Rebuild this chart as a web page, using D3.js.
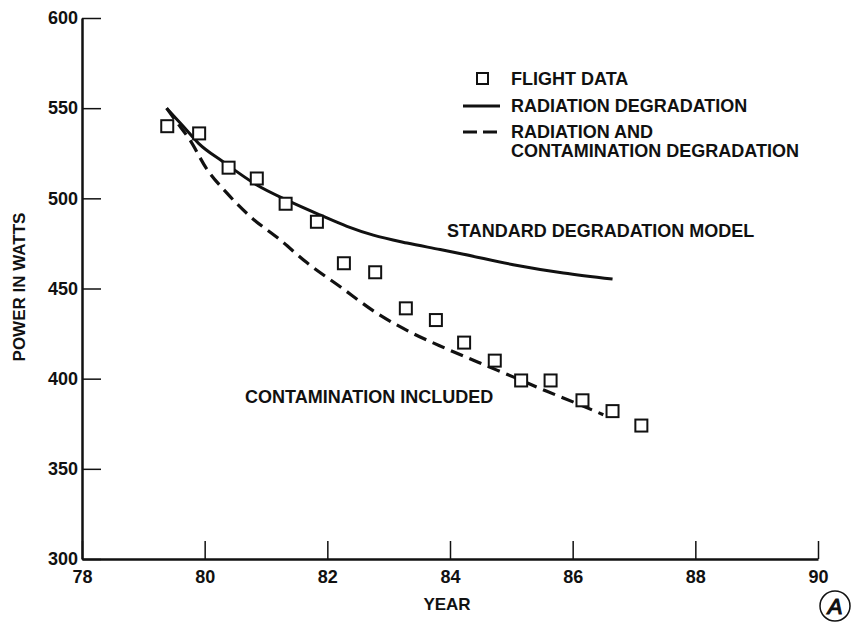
<!DOCTYPE html>
<html>
<head>
<meta charset="utf-8">
<script src="https://cdn.jsdelivr.net/npm/d3@7"></script>
<style>
  body { margin: 0; background: #fff; }
  svg text { font-family: "Liberation Sans", Arial, sans-serif; font-weight: bold; fill: #111; }
</style>
</head>
<body>
<svg width="853" height="627"></svg>
<script>
// flight data (squares)
var flightYears = [79.39, 79.91, 80.39, 80.85, 81.32, 81.83, 82.27, 82.78, 83.28, 83.77, 84.23, 84.73, 85.16, 85.64, 86.16, 86.65, 87.12];
var flightPower = [540, 536, 517, 511, 497, 487, 464, 459, 439, 432.5, 420, 410, 399, 399, 388, 382, 374];

// radiation degradation (solid)
var radYears = [79.38, 79.65, 79.9, 80.3, 80.85, 81.34, 81.88, 82.32, 82.75, 83.3, 83.84, 84.22, 85.03, 85.85, 86.65];
var radPower = [550, 540, 530.5, 520.3, 507.4, 499, 490.8, 484.5, 479.6, 475.2, 471.6, 469, 463.2, 458.6, 455.2];

// radiation and contamination degradation (dashed)
var contYears = [79.38, 79.54, 79.76, 80.03, 80.36, 80.74, 81.23, 81.66, 82.21, 82.8, 83.4, 83.95, 84.5, 85.03, 85.58, 86.12, 86.5];
var contPower = [550, 542.5, 532.3, 516.5, 503, 490, 477, 464.5, 451, 436.5, 425, 416.5, 408.5, 401, 393, 385.5, 380];

var xTicks = [78, 80, 82, 84, 86, 88, 90];
var yTicks = [300, 350, 400, 450, 500, 550, 600];

var legendLabels = ["FLIGHT DATA", "RADIATION DEGRADATION", "RADIATION AND", "CONTAMINATION DEGRADATION"];

var svg = d3.select('svg');

var x = d3.scaleLinear().domain([78, 90]).range([82, 818]);
var y = d3.scaleLinear().domain([300, 600]).range([559, 18]);

// axes
var xAxis = d3.axisBottom(x).tickValues(xTicks).tickSizeInner(-18).tickSizeOuter(0).tickPadding(11).tickFormat(d3.format('d'));
var yAxis = d3.axisLeft(y).tickValues(yTicks).tickSizeInner(-19).tickSizeOuter(0).tickPadding(4).tickFormat(d3.format('d'));

var gx = svg.append('g').attr('transform', 'translate(0,' + y(300) + ')').call(xAxis);
var gy = svg.append('g').attr('transform', 'translate(' + x(78) + ',0)').call(yAxis);

[gx, gy].forEach(function(g){
    g.select('.domain').attr('stroke', '#111').attr('stroke-width', 2.5);
    g.selectAll('.tick line').attr('stroke', '#111').attr('stroke-width', 1.5);
    g.selectAll('.tick text').style('font-size', '18px').attr('fill', '#111');
});

// axis titles
svg.append('text')
    .attr('x', 447).attr('y', 610)
    .attr('text-anchor', 'middle')
    .style('font-size', '17px')
    .text('YEAR');

svg.append('text')
    .attr('transform', 'translate(25,287) rotate(-90)')
    .attr('text-anchor', 'middle')
    .style('font-size', '17px')
    .text('POWER IN WATTS');

// curves
var radLine = d3.line()
    .x(function(d, i){ return x(radYears[i]); })
    .y(function(d){ return y(d); })
    .curve(d3.curveMonotoneX);

var contLine = d3.line()
    .x(function(d, i){ return x(contYears[i]); })
    .y(function(d){ return y(d); })
    .curve(d3.curveMonotoneX);

svg.append('path')
    .attr('d', radLine(radPower))
    .attr('fill', 'none')
    .attr('stroke', '#111')
    .attr('stroke-width', 3);

svg.append('path')
    .attr('d', contLine(contPower))
    .attr('fill', 'none')
    .attr('stroke', '#111')
    .attr('stroke-width', 3.2)
    .attr('stroke-dasharray', '13,7');

// flight data squares
svg.append('g').selectAll('rect')
    .data(flightPower)
    .enter().append('rect')
    .attr('x', function(d, i){ return x(flightYears[i]) - 6; })
    .attr('y', function(d){ return y(d) - 6; })
    .attr('width', 12)
    .attr('height', 12)
    .attr('fill', '#fff')
    .attr('stroke', '#111')
    .attr('stroke-width', 2);

// legend
var legend = svg.append('g');

legend.append('rect')
    .attr('x', 477).attr('y', 73)
    .attr('width', 11).attr('height', 11)
    .attr('fill', 'none').attr('stroke', '#111').attr('stroke-width', 2);

legend.append('line')
    .attr('x1', 463).attr('x2', 500).attr('y1', 106).attr('y2', 106)
    .attr('stroke', '#111').attr('stroke-width', 3);

legend.append('line')
    .attr('x1', 463).attr('x2', 503).attr('y1', 132).attr('y2', 132)
    .attr('stroke', '#111').attr('stroke-width', 3)
    .attr('stroke-dasharray', '14,6');

var legendY = [85, 112, 138, 157];
legend.selectAll('text')
    .data(legendLabels)
    .enter().append('text')
    .attr('x', 511)
    .attr('y', function(d, i){ return legendY[i]; })
    .style('font-size', '18px')
    .text(function(d){ return d; });

// curve annotations
svg.append('text')
    .attr('x', 447).attr('y', 237)
    .style('font-size', '18px')
    .text('STANDARD DEGRADATION MODEL');

svg.append('text')
    .attr('x', 245).attr('y', 403)
    .style('font-size', '18px')
    .text('CONTAMINATION INCLUDED');

// logo
var logo = svg.append('g').attr('transform', 'translate(835,606)');
logo.append('circle').attr('r', 15).attr('fill', 'none').attr('stroke', '#111').attr('stroke-width', 1.5);
logo.append('text')
    .attr('text-anchor', 'middle')
    .attr('y', 8)
    .style('font-size', '22px')
    .style('font-style', 'italic')
    .style('font-weight', 'normal')
    .attr('fill', 'none')
    .attr('stroke', '#111')
    .attr('stroke-width', 1.2)
    .text('A');
</script>
</body>
</html>
